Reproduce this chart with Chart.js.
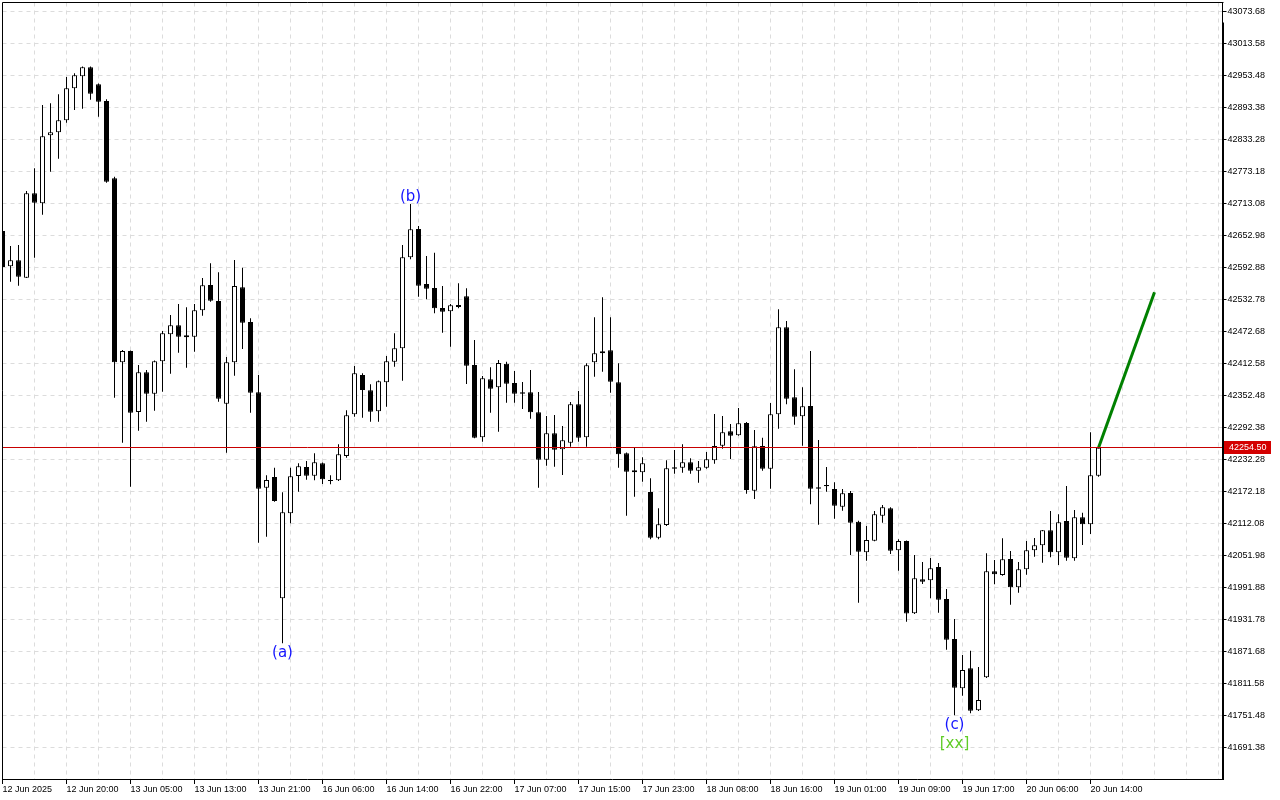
<!DOCTYPE html>
<html>
<head>
<meta charset="utf-8">
<title>US30 H1</title>
<script src="https://cdn.jsdelivr.net/npm/chart.js@4.4.1/dist/chart.umd.min.js"></script>
<style>
  html, body { margin: 0; padding: 0; background: #fff; }
  canvas { display: block; }
</style>
</head>
<body>
<canvas id="priceChart" width="1280" height="800"></canvas>
<script>
// hourly candles, 12 Jun 12:00 .. 20 Jun 15:00
const opens = [
  42661.4, 42595.1, 42606.4, 42573.7, 42732.2, 42713.5, 42841.2, 42846.8, 42869.3, 42929.4,
  42952.0, 42968.9, 42937.0, 42905.6, 42760.4, 42414.8, 42436.1, 42321.5, 42396.1, 42355.9,
  42416.7, 42467.4, 42484.3, 42461.8, 42462.9, 42512.5, 42560.0, 42530.0, 42337.1, 42414.8,
  42555.7, 42490.5, 42358.5, 42179.3, 42199.4, 41971.6, 42131.2, 42201.3, 42218.2, 42201.9,
  42225.1, 42193.2, 42193.2, 42238.9, 42317.2, 42391.0, 42362.2, 42322.8, 42377.3, 42416.0,
  42441.1, 42612.0, 42665.2, 42561.9, 42554.4, 42516.8, 42510.6, 42522.5, 42538.8, 42409.8,
  42274.0, 42382.9, 42367.9, 42412.2, 42376.0, 42358.5, 42358.5, 42320.9, 42231.9, 42281.5,
  42251.4, 42263.8, 42336.0, 42274.0, 42414.8, 42431.7, 42437.4, 42377.3, 42243.9, 42212.0,
  42208.2, 42171.2, 42085.4, 42109.3, 42217.6, 42216.9, 42227.0, 42211.2, 42216.9, 42230.8,
  42258.2, 42285.2, 42277.7, 42300.8, 42173.7, 42257.6, 42215.0, 42317.2, 42480.6, 42349.1,
  42313.4, 42332.8, 42180.1, 42184.4, 42176.9, 42143.6, 42169.4, 42115.5, 42058.0, 42079.8,
  42126.7, 42140.6, 42061.7, 42079.2, 41943.4, 42007.3, 42005.4, 42030.4, 41970.3, 41895.2,
  41802.6, 41840.1, 41761.2, 41823.2, 42022.3, 42015.4, 42045.4, 41992.3, 42026.1, 42061.7,
  42071.1, 42099.3, 42058.0, 42116.8, 42046.7, 42123.7, 42110.6, 42201.9
];
const highs = [
  42665.2, 42633.3, 42635.1, 42736.6, 42779.2, 42898.1, 42901.3, 42918.2, 42950.7, 42957.6,
  42970.4, 42970.4, 42938.5, 42908.8, 42763.4, 42437.9, 42437.0, 42409.8, 42400.4, 42418.2,
  42473.6, 42503.7, 42524.3, 42518.1, 42524.3, 42573.2, 42600.8, 42583.9, 42424.8, 42607.0,
  42592.5, 42497.5, 42391.0, 42202.6, 42216.9, 42170.7, 42216.9, 42225.1, 42229.5, 42243.9,
  42226.6, 42202.6, 42260.8, 42324.7, 42407.9, 42394.2, 42373.5, 42380.7, 42426.7, 42469.3,
  42635.1, 42712.1, 42670.8, 42614.5, 42620.7, 42558.1, 42524.3, 42563.2, 42553.8, 42456.7,
  42389.1, 42405.4, 42419.2, 42416.0, 42398.5, 42377.8, 42400.4, 42359.1, 42314.0, 42315.9,
  42295.2, 42340.3, 42360.9, 42413.0, 42499.4, 42536.9, 42499.4, 42413.0, 42245.4, 42253.9,
  42236.4, 42197.0, 42140.6, 42230.8, 42250.1, 42260.8, 42234.5, 42229.5, 42246.4, 42317.7,
  42314.0, 42299.0, 42329.0, 42302.7, 42287.7, 42273.2, 42338.4, 42514.4, 42492.4, 42401.7,
  42367.9, 42436.1, 42268.9, 42218.2, 42189.5, 42176.9, 42173.1, 42117.3, 42107.4, 42135.6,
  42146.8, 42142.5, 42082.4, 42080.2, 42052.9, 42039.8, 42047.3, 42037.9, 41989.1, 41932.7,
  41865.1, 41873.2, 41842.6, 42056.1, 42043.5, 42084.3, 42060.4, 42039.8, 42079.2, 42084.8,
  42099.9, 42135.6, 42129.4, 42182.5, 42137.4, 42132.4, 42283.4, 42254.5
];
const lows = [
  42588.2, 42566.2, 42558.7, 42573.2, 42611.3, 42692.0, 42772.8, 42797.2, 42864.8, 42888.7,
  42891.1, 42908.0, 42876.1, 42752.1, 42348.3, 42263.8, 42181.2, 42286.4, 42303.3, 42323.9,
  42359.6, 42393.4, 42432.9, 42404.7, 42434.7, 42502.4, 42528.6, 42340.8, 42245.1, 42389.7,
  42439.8, 42320.2, 42076.0, 42087.3, 42153.0, 41887.1, 42112.5, 42171.8, 42194.3, 42193.2,
  42186.3, 42185.7, 42191.9, 42235.7, 42312.7, 42310.8, 42303.3, 42303.3, 42331.4, 42406.6,
  42380.3, 42608.3, 42538.0, 42533.2, 42506.9, 42470.4, 42444.1, 42516.3, 42374.1, 42272.1,
  42265.7, 42320.2, 42284.5, 42339.0, 42339.0, 42327.1, 42308.9, 42179.3, 42220.6, 42218.8,
  42203.2, 42256.3, 42265.7, 42256.3, 42387.8, 42397.2, 42357.7, 42216.9, 42126.7, 42162.4,
  42190.6, 42082.4, 42082.4, 42107.4, 42205.6, 42207.5, 42205.6, 42188.7, 42215.0, 42224.4,
  42252.6, 42233.2, 42277.0, 42168.1, 42158.1, 42211.2, 42177.4, 42290.1, 42336.0, 42297.6,
  42258.2, 42148.1, 42109.8, 42171.8, 42121.1, 42136.1, 42052.9, 41963.3, 42042.2, 42078.7,
  42113.6, 42054.8, 42023.4, 41927.7, 41942.1, 41998.5, 41971.6, 41944.6, 41875.1, 41751.9,
  41788.7, 41755.6, 41759.9, 41821.9, 41997.9, 42014.0, 41959.6, 41982.1, 42015.9, 42049.7,
  42038.5, 42048.6, 42034.1, 42042.2, 42042.2, 42071.7, 42092.4, 42200.0
];
const closes = [
  42593.8, 42606.4, 42575.6, 42732.2, 42714.6, 42839.3, 42846.8, 42869.3, 42929.4, 42953.9,
  42968.9, 42919.3, 42904.3, 42754.0, 42414.8, 42436.1, 42320.2, 42396.1, 42355.9, 42416.7,
  42469.3, 42484.3, 42462.9, 42465.5, 42512.5, 42559.5, 42530.5, 42346.5, 42414.8, 42558.1,
  42489.2, 42357.7, 42177.4, 42193.8, 42154.3, 42133.1, 42200.7, 42219.5, 42201.9, 42227.0,
  42195.1, 42191.9, 42242.0, 42315.3, 42394.2, 42362.8, 42322.1, 42379.2, 42416.7, 42441.1,
  42612.0, 42664.6, 42558.7, 42553.1, 42516.3, 42509.9, 42521.9, 42518.7, 42408.4, 42273.2,
  42384.8, 42365.3, 42413.5, 42374.6, 42355.9, 42355.9, 42320.9, 42231.9, 42281.5, 42250.7,
  42268.3, 42336.0, 42273.2, 42409.2, 42431.7, 42435.5, 42378.4, 42242.0, 42209.4, 42208.2,
  42225.1, 42085.4, 42110.6, 42215.8, 42215.0, 42227.0, 42211.2, 42217.6, 42232.7, 42257.6,
  42283.4, 42277.0, 42300.3, 42175.0, 42257.1, 42215.0, 42317.2, 42480.6, 42346.5, 42312.7,
  42332.2, 42177.4, 42177.4, 42181.9, 42145.5, 42168.8, 42113.6, 42059.1, 42081.1, 42129.4,
  42142.5, 42061.0, 42079.2, 41943.1, 42009.2, 42002.8, 42027.9, 41969.0, 41893.8, 41803.7,
  41836.9, 41760.5, 41780.6, 42022.3, 42016.7, 42044.8, 41992.3, 42026.1, 42061.7, 42071.1,
  42099.3, 42058.0, 42114.3, 42047.9, 42123.7, 42110.6, 42202.6, 42254.5
];

// one label every 8 bars
const timeLabels = [
  '12 Jun 2025', '12 Jun 20:00', '13 Jun 05:00', '13 Jun 13:00', '13 Jun 21:00', '16 Jun 06:00',
  '16 Jun 14:00', '16 Jun 22:00', '17 Jun 07:00', '17 Jun 15:00', '17 Jun 23:00', '18 Jun 08:00',
  '18 Jun 16:00', '19 Jun 01:00', '19 Jun 09:00', '19 Jun 17:00', '20 Jun 06:00', '20 Jun 14:00'
];
const priceTicks = [
  43073.68, 43013.58, 42953.48, 42893.38, 42833.28, 42773.18, 42713.08, 42652.98,
  42592.88, 42532.78, 42472.68, 42412.58, 42352.48, 42292.38, 42232.28, 42172.18,
  42112.08, 42051.98, 41991.88, 41931.78, 41871.68, 41811.58, 41751.48, 41691.38
];
const currentPrice = 42254.50;

// forecast arrow
const projBars = [137, 144];
const projValues = [42254.5, 42546.3];

// wave marks
const waveLabels = ['(a)', '(b)', '(c)', '[xx]'];
const waveBars = [35, 51, 119, 119];
const waveAbove = [false, true, false, false];

// axis range
const xMax = 152.5;
const yMin = 41632.22;
const yMax = 43090.58;

const waveColors = ['#1414ff', '#1414ff', '#1414ff', '#5fcc26'];

const labelAt = v => (v % 8 === 0 ? timeLabels[v / 8] : undefined);

const overlay = {
    id: 'overlay',
    afterDatasetsDraw(chart) {
        const { ctx, chartArea: area, scales: { x, y } } = chart;
        ctx.save();
        const py = Math.round(y.getPixelForValue(currentPrice) - 0.5) + 0.5;
        ctx.strokeStyle = '#c80000';
        ctx.lineWidth = 1;
        ctx.beginPath();
        ctx.moveTo(area.left, py);
        ctx.lineTo(area.right, py);
        ctx.stroke();

        ctx.font = '15px "DejaVu Sans"';
        ctx.textAlign = 'center';
        ctx.textBaseline = 'alphabetic';
        const stacked = {};
        waveLabels.forEach((txt, k) => {
            const bar = waveBars[k];
            const cx = x.getPixelForValue(bar);
            ctx.fillStyle = waveColors[k];
            if (waveAbove[k]) {
                ctx.fillText(txt, cx, y.getPixelForValue(highs[bar]) - 3);
            } else {
                const n = stacked[bar] || 0;
                stacked[bar] = n + 1;
                ctx.fillText(txt, cx, y.getPixelForValue(lows[bar]) + 14 + n * 19);
            }
        });
        ctx.restore();
    },
    afterDraw(chart) {
        const { ctx, chartArea: area, scales: { y } } = chart;
        ctx.save();
        ctx.strokeStyle = '#000';
        ctx.lineWidth = 1;
        ctx.beginPath();
        ctx.moveTo(area.left, area.bottom);
        ctx.lineTo(area.left, area.top);
        ctx.lineTo(area.right + 1, area.top);
        ctx.stroke();
        ctx.lineWidth = 2;
        ctx.beginPath();
        ctx.moveTo(Math.round(area.right), area.top + 20);
        ctx.lineTo(Math.round(area.right), area.bottom + 1);
        ctx.stroke();

        // bid price tag
        const py = Math.round(y.getPixelForValue(currentPrice));
        ctx.fillStyle = '#d40000';
        ctx.fillRect(Math.round(area.right) + 1, py - 7, 47, 13);
        ctx.fillStyle = '#fff';
        ctx.font = '9px "Liberation Sans"';
        ctx.textAlign = 'left';
        ctx.textBaseline = 'middle';
        ctx.fillText(currentPrice.toFixed(2), Math.round(area.right) + 6, py);
        ctx.restore();
    }
};

document.addEventListener('DOMContentLoaded', function () {
    const canvas = document.getElementById('priceChart');

    const bodyData = closes.map((c, i) => ({ x: i, y: [opens[i], c] }));
    const wickData = highs.map((h, i) => ({ x: i, y: [lows[i], h] }));
    const bodyFill = closes.map((c, i) => (c >= opens[i] ? '#ffffff' : '#000000'));
    const projData = projBars.map((b, i) => ({ x: b, y: projValues[i] }));

    const gridBars = [];
    for (let b = 0; b <= xMax; b += 4) gridBars.push(b);

    new Chart(canvas, {
        type: 'bar',
        data: {
            datasets: [
                {
                    label: 'body',
                    data: bodyData,
                    backgroundColor: bodyFill,
                    borderColor: '#000',
                    borderWidth: 1,
                    borderSkipped: false,
                    maxBarThickness: 5,
                    minBarLength: 1,
                    grouped: false,
                    clip: 0
                },
                {
                    label: 'wick',
                    data: wickData,
                    backgroundColor: '#000',
                    borderWidth: 0,
                    maxBarThickness: 1,
                    grouped: false,
                    clip: 0
                },
                {
                    type: 'line',
                    label: 'forecast',
                    data: projData,
                    borderColor: '#008000',
                    borderWidth: 3,
                    pointRadius: 0,
                    fill: false
                }
            ]
        },
        options: {
            responsive: false,
            devicePixelRatio: 1,
            animation: false,
            events: [],
            layout: { padding: { left: 2.5, top: 2.5, right: 0, bottom: 0 } },
            plugins: { legend: { display: false }, tooltip: { enabled: false } },
            scales: {
                x: {
                    type: 'linear',
                    position: 'bottom',
                    min: 0,
                    max: xMax,
                    offset: false,
                    afterBuildTicks: s => { s.ticks = gridBars.map(v => ({ value: v })); },
                    afterFit: s => {
                        s.height = 21;
                        s.paddingLeft = 0;
                        s.paddingRight = 0;
                    },
                    grid: {
                        offset: false,
                        color: '#dcdcdc',
                        tickLength: 5,
                        tickColor: c => (c.tick && labelAt(c.tick.value) ? '#000' : 'rgba(0,0,0,0)')
                    },
                    border: { display: true, color: '#000', width: 1, dash: [4, 4] },
                    ticks: {
                        autoSkip: false,
                        maxRotation: 0,
                        minRotation: 0,
                        align: 'start',
                        padding: 0,
                        color: '#000',
                        font: { family: '"Liberation Sans"', size: 9 },
                        callback: v => labelAt(v) || ''
                    }
                },
                y: {
                    type: 'linear',
                    position: 'right',
                    min: yMin,
                    max: yMax,
                    afterBuildTicks: s => { s.ticks = priceTicks.map(v => ({ value: v })); },
                    afterFit: s => {
                        s.width = 57.5;
                        s.paddingTop = 0;
                        s.paddingBottom = 0;
                    },
                    grid: { color: '#dcdcdc', tickLength: 4, tickColor: '#000' },
                    border: { display: true, color: '#000', width: 1, dash: [4, 4] },
                    ticks: {
                        padding: 1,
                        color: '#000',
                        font: { family: '"Liberation Sans"', size: 9 },
                        callback: v => Number(v).toFixed(2)
                    }
                }
            }
        },
        plugins: [overlay]
    });
});
</script>
</body>
</html>
